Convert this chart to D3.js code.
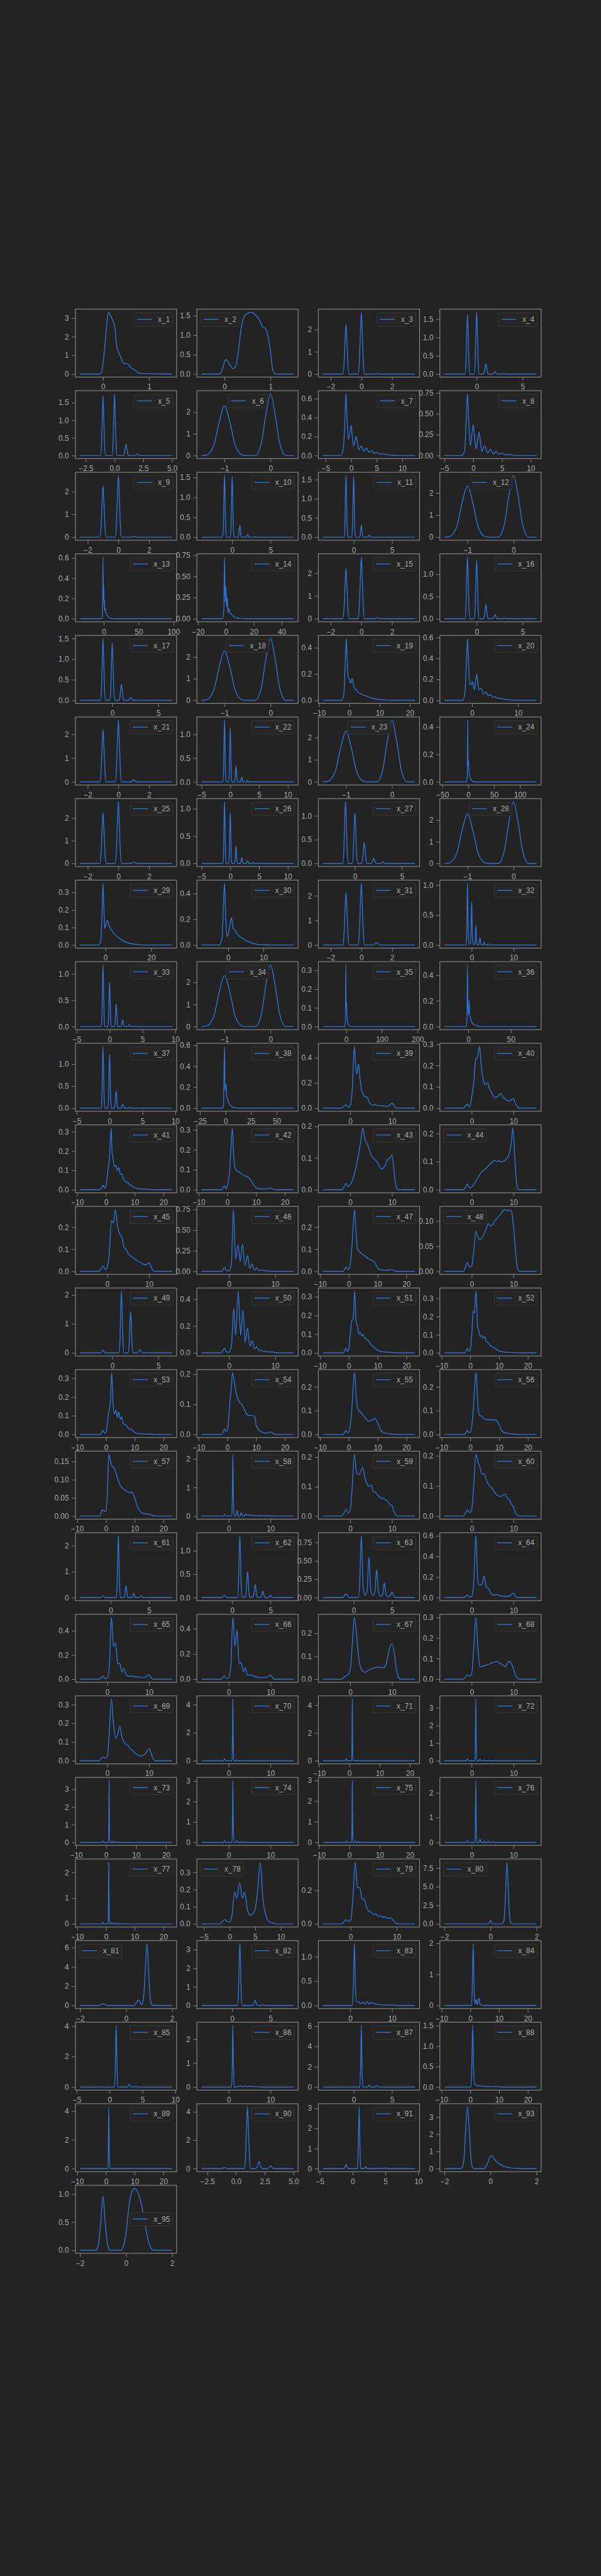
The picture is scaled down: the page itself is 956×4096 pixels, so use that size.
<!DOCTYPE html>
<html><head><meta charset="utf-8">
<script src="https://cdn.jsdelivr.net/npm/d3@7"></script>
<style>
html,body{margin:0;padding:0;background:#232323;}
svg{display:block;}
</style></head><body>
<div id="chart"></div>
<script>
const labels = ["x_1","x_2","x_3","x_4","x_5","x_6","x_7","x_8","x_9","x_10","x_11","x_12","x_13","x_14","x_15","x_16","x_17","x_18","x_19","x_20","x_21","x_22","x_23","x_24","x_25","x_26","x_27","x_28","x_29","x_30","x_31","x_32","x_33","x_34","x_35","x_36","x_37","x_38","x_39","x_40","x_41","x_42","x_43","x_44","x_45","x_46","x_47","x_48","x_49","x_50","x_51","x_52","x_53","x_54","x_55","x_56","x_57","x_58","x_59","x_60","x_61","x_62","x_63","x_64","x_65","x_66","x_67","x_68","x_69","x_70","x_71","x_72","x_73","x_74","x_75","x_76","x_77","x_78","x_79","x_80","x_81","x_82","x_83","x_84","x_85","x_86","x_87","x_88","x_89","x_90","x_91","x_93","x_95"];

const xTicks = [[0,1],[0,1],[-2,0,2],[0,5],[-2.5,0,2.5,5],[-1,0],[-5,0,5,10],[-5,0,5,10],[-2,0,2],[0,5],[0,5],[-1,0],
[0,50,100],[-20,0,20,40],[-2,0,2],[0,5],[0,5],[-1,0],[-10,0,10,20],[0,10],[-2,0,2],[-5,0,5,10],[-1,0],[-50,0,50,100],
[-2,0,2],[-5,0,5,10],[0,5],[-1,0],[0,20],[0,10],[-2,0,2],[0,10],[-5,0,5,10],[-1,0],[0,100,200],[0,50],
[-5,0,5,10],[-25,0,25,50],[0,10],[0,10],[-10,0,10,20],[-10,0,10,20],[0,10],[0,10],[0,10],[0,10],[-10,0,10,20],[0,10],
[0,5],[0,10],[-10,0,10,20],[-10,0,10,20],[-10,0,10,20],[-10,0,10,20],[-10,0,10,20],[-10,0,10,20],[-10,0,10,20],[0,10],[0,10],[0,10],
[0,5],[0,5],[0,5],[0,10],[0,10],[0,10],[0,10],[0,10],[0,10],[0,10],[-10,0,10,20],[0,10],
[-10,0,10,20],[0,10],[-10,0,10,20],[0,10],[-10,0,10,20],[-5,0,5,10],[0,10],[-2,0,2],[-2,0,2],[0,5],[0,10],[-10,0,10,20],
[-5,0,5,10],[0,10],[0,5],[-10,0,10,20],[-10,0,10,20],[-2.5,0,2.5,5],[-5,0,5,10],[-2,0,2],[-2,0,2]];

const yTicks = [[0,1,2,3],[0,0.5,1,1.5],[0,1,2],[0,0.5,1,1.5],[0,0.5,1,1.5],[0,1,2],[0,0.2,0.4,0.6],[0,0.25,0.5,0.75],[0,1,2],[0,0.5,1,1.5],[0,0.5,1,1.5],[0,1,2],
[0,0.2,0.4,0.6],[0,0.25,0.5,0.75],[0,1,2],[0,0.5,1],[0,0.5,1,1.5],[0,1,2],[0,0.2,0.4],[0,0.2,0.4,0.6],[0,1,2],[0,0.5,1],[0,1,2],[0,0.2,0.4],
[0,1,2],[0,0.5,1],[0,0.5,1],[0,1,2],[0,0.1,0.2,0.3],[0,0.2,0.4],[0,1,2],[0,0.5,1],[0,0.5,1],[0,1,2],[0,0.1,0.2,0.3],[0,0.2,0.4],
[0,0.5,1],[0,0.2,0.4,0.6],[0,0.2,0.4],[0,0.1,0.2,0.3],[0,0.1,0.2,0.3],[0,0.1,0.2,0.3],[0,0.1,0.2],[0,0.1,0.2],[0,0.1,0.2],[0,0.25,0.5,0.75],[0,0.1,0.2],[0,0.05,0.1],
[0,1,2],[0,0.2,0.4],[0,0.1,0.2,0.3],[0,0.1,0.2,0.3],[0,0.1,0.2,0.3],[0,0.1,0.2],[0,0.1,0.2],[0,0.1,0.2],[0,0.05,0.1,0.15],[0,1,2],[0,0.1,0.2],[0,0.1,0.2],
[0,1,2],[0,0.5,1],[0,0.25,0.5,0.75],[0,0.2,0.4,0.6],[0,0.2,0.4],[0,0.2,0.4],[0,0.1,0.2],[0,0.1,0.2,0.3],[0,0.1,0.2,0.3],[0,2,4],[0,2,4],[0,1,2,3],
[0,1,2,3],[0,1,2,3],[0,1,2,3],[0,1,2],[0,1,2],[0,0.1,0.2,0.3],[0,0.2],[0,2.5,5,7.5],[0,2,4,6],[0,1,2,3],[0,0.5,1],[0,1,2],
[0,2,4],[0,1,2],[0,2,4,6],[0,0.5,1,1.5],[0,2,4],[0,2,4],[0,1,2,3],[0,1,2,3],[0,0.5,1]];

const curves = [
/*x_1*/[[-0.5,0],[-0.07,0],[-0.03,0.1],[0,0.55],[0.04,1.5],[0.08,2.6],[0.12,3.32],[0.16,3.15],[0.21,2.9],[0.26,2.45],[0.3,1.45],[0.36,1.05],[0.42,0.68],[0.46,0.57],[0.53,0.55],[0.61,0.33],[0.7,0.2],[0.78,0.05],[0.9,0.02],[1.05,0.01],[1.5,0]],
/*x_2*/[[-0.5,0],[-0.11,0],[-0.05,0.1],[0.02,0.37],[0.065,0.34],[0.13,0.21],[0.18,0.14],[0.24,0.18],[0.3,0.57],[0.37,1.23],[0.43,1.49],[0.52,1.57],[0.59,1.59],[0.67,1.52],[0.76,1.39],[0.83,1.21],[0.89,1.17],[0.93,1.05],[1,0.57],[1.05,0.1],[1.11,0],[1.5,0]],
/*x_3*/[[-2.5,0],[-1.21,0],[-1.13,0.45],[-1.06,1.5],[-1,2.24],[-0.94,1.5],[-0.87,0.45],[-0.79,0],[-0.21,0],[-0.13,0.56],[-0.06,1.86],[0,2.78],[0.06,1.86],[0.13,0.56],[0.21,0],[0.8,0],[1,0.02],[1.2,0],[3.5,0]],
/*x_4*/[[-3.5,0],[-1.27,0],[-1.16,0.33],[-1.08,1.09],[-1,1.63],[-0.92,1.09],[-0.84,0.33],[-0.73,0],[-0.27,0],[-0.16,0.34],[-0.08,1.13],[0,1.69],[0.08,1.13],[0.16,0.34],[0.27,0],[0.73,0],[0.84,0.06],[0.92,0.19],[1,0.28],[1.08,0.19],[1.16,0.06],[1.27,0],[1.75,0],[1.85,0.02],[2,0.06],[2.15,0.02],[2.25,0],[2.8,0],[3,0.01],[3.2,0],[6.5,0]],
/*x_5*/[[-3,0],[-1.21,0],[-1.13,0.34],[-1.06,1.13],[-1,1.69],[-0.94,1.13],[-0.87,0.34],[-0.79,0],[-0.21,0],[-0.13,0.35],[-0.06,1.17],[0,1.75],[0.06,1.17],[0.13,0.35],[0.21,0],[0.76,0],[0.86,0.07],[0.93,0.22],[1,0.32],[1.07,0.22],[1.14,0.07],[1.24,0],[1.8,0],[2,0.045],[2.2,0],[5,0]],
/*x_6*/[[-1.5,0],[-1.4,0.02],[-1.234,0.46],[-1.117,1.53],[-1,2.29],[-0.883,1.53],[-0.766,0.46],[-0.61,0.02],[-0.5,0],[-0.33,0],[-0.2,0.57],[-0.1,1.9],[0,2.84],[0.1,1.9],[0.2,0.57],[0.33,0],[0.5,0]],
/*x_7*/[[-5.5,0],[-2,0],[-1.5,0.08],[-1.2,0.4],[-1,0.65],[-0.8,0.4],[-0.55,0.17],[-0.2,0.25],[0,0.32],[0.2,0.22],[0.5,0.1],[0.8,0.16],[1,0.2],[1.2,0.15],[1.5,0.06],[2,0.1],[2.5,0.045],[3,0.08],[3.5,0.035],[4,0.055],[4.5,0.025],[5,0.035],[5.5,0.015],[6,0.02],[7,0.01],[8,0.005],[9,0],[12.5,0]],
/*x_8*/[[-5,0],[-2,0],[-1.5,0.06],[-1.2,0.45],[-1,0.74],[-0.8,0.45],[-0.5,0.12],[-0.2,0.27],[0,0.37],[0.2,0.25],[0.5,0.08],[0.8,0.2],[1,0.28],[1.2,0.2],[1.5,0.05],[2,0.12],[2.5,0.03],[3,0.075],[3.5,0.02],[4,0.05],[4.5,0.015],[5,0.03],[5.5,0.01],[6,0.012],[7,0.004],[8,0],[11,0]],
/*x_9*/[[-2.5,0],[-1.21,0],[-1.13,0.45],[-1.06,1.51],[-1,2.26],[-0.94,1.51],[-0.87,0.45],[-0.79,0],[-0.21,0],[-0.13,0.54],[-0.06,1.82],[0,2.71],[0.06,1.82],[0.13,0.54],[0.21,0],[0.8,0],[1,0.03],[1.2,0],[3.5,0]],
/*x_10*/[[-4,0],[-1.24,0],[-1.14,0.31],[-1.07,1.04],[-1,1.55],[-0.93,1.04],[-0.86,0.31],[-0.76,0],[-0.24,0],[-0.14,0.31],[-0.07,1.03],[0,1.53],[0.07,1.03],[0.14,0.31],[0.24,0],[0.76,0],[0.86,0.06],[0.93,0.2],[1,0.3],[1.07,0.2],[1.14,0.06],[1.24,0],[1.8,0],[2,0.065],[2.2,0],[2.85,0],[3,0.01],[3.15,0],[8,0]],
/*x_11*/[[-4,0],[-1.24,0],[-1.14,0.32],[-1.07,1.08],[-1,1.61],[-0.93,1.08],[-0.86,0.32],[-0.76,0],[-0.24,0],[-0.14,0.32],[-0.07,1.06],[0,1.58],[0.07,1.06],[0.14,0.32],[0.24,0],[0.76,0],[0.86,0.06],[0.93,0.21],[1,0.32],[1.07,0.21],[1.14,0.06],[1.24,0],[1.8,0],[2,0.05],[2.2,0],[8,0]],
/*x_12*/[[-1.5,0],[-1.4,0.02],[-1.234,0.46],[-1.117,1.55],[-1,2.31],[-0.883,1.55],[-0.766,0.46],[-0.61,0.02],[-0.5,0],[-0.33,0],[-0.2,0.56],[-0.1,1.88],[0,2.8],[0.1,1.88],[0.2,0.56],[0.33,0],[0.5,0]],
/*x_13*/[[-34,0],[-2.5,0],[-1.6,0.08],[-1,0.61],[-0.5,0.2],[0,0.32],[0.4,0.13],[1,0.18],[1.5,0.08],[2,0.11],[3,0.06],[4,0.05],[5,0.03],[7,0.015],[10,0.004],[15,0],[98,0]],
/*x_14*/[[-17.5,0],[-2.2,0],[-1.5,0.1],[-1,0.73],[-0.5,0.2],[0,0.38],[0.5,0.14],[1,0.25],[1.5,0.07],[2,0.12],[3,0.07],[4,0.05],[6,0.02],[8,0.008],[10,0.003],[14,0],[48.5,0]],
/*x_15*/[[-2.5,0],[-1.21,0],[-1.13,0.44],[-1.06,1.48],[-1,2.21],[-0.94,1.48],[-0.87,0.44],[-0.79,0],[-0.21,0],[-0.13,0.54],[-0.06,1.82],[0,2.71],[0.06,1.82],[0.13,0.54],[0.21,0],[0.8,0],[1,0.04],[1.2,0],[3.5,0]],
/*x_16*/[[-3.5,0],[-1.27,0],[-1.16,0.28],[-1.08,0.93],[-1,1.39],[-0.92,0.93],[-0.84,0.28],[-0.73,0],[-0.27,0],[-0.16,0.26],[-0.08,0.88],[0,1.31],[0.08,0.88],[0.16,0.26],[0.27,0],[0.73,0],[0.84,0.06],[0.92,0.21],[1,0.32],[1.08,0.21],[1.16,0.06],[1.27,0],[1.73,0],[1.84,0.02],[1.92,0.06],[2,0.094],[2.08,0.06],[2.16,0.02],[2.27,0],[2.8,0],[3,0.022],[3.2,0],[6.5,0]],
/*x_17*/[[-3.5,0],[-1.27,0],[-1.16,0.3],[-1.08,1],[-1,1.5],[-0.92,1],[-0.84,0.3],[-0.73,0],[-0.27,0],[-0.16,0.28],[-0.08,0.94],[0,1.4],[0.08,0.94],[0.16,0.28],[0.27,0],[0.73,0],[0.84,0.08],[0.92,0.26],[1,0.385],[1.08,0.26],[1.16,0.08],[1.27,0],[1.75,0],[1.85,0.02],[2,0.067],[2.15,0.02],[2.25,0],[2.8,0],[3,0.01],[3.2,0],[6.5,0]],
/*x_18*/[[-1.5,0],[-1.4,0.02],[-1.234,0.46],[-1.117,1.53],[-1,2.29],[-0.883,1.53],[-0.766,0.46],[-0.61,0.02],[-0.5,0],[-0.33,0],[-0.2,0.57],[-0.1,1.92],[0,2.86],[0.1,1.92],[0.2,0.57],[0.33,0],[0.5,0]],
/*x_19*/[[-8.7,0],[-2.5,0],[-1.8,0.05],[-1.4,0.25],[-1,0.47],[-0.7,0.3],[-0.4,0.18],[0,0.16],[0.4,0.13],[1,0.165],[1.4,0.11],[2,0.085],[2.5,0.075],[3,0.06],[3.5,0.055],[4,0.045],[5,0.038],[6,0.028],[7,0.02],[8,0.013],[10,0.006],[12,0.002],[14,0],[21.7,0]],
/*x_20*/[[-6,0],[-2,0],[-1.5,0.1],[-1.2,0.4],[-1,0.59],[-0.8,0.4],[-0.5,0.15],[-0.2,0.15],[0,0.18],[0.3,0.14],[0.5,0.1],[0.8,0.19],[1,0.25],[1.2,0.19],[1.5,0.1],[2,0.115],[2.5,0.06],[3,0.08],[3.5,0.045],[4,0.055],[4.5,0.03],[5,0.035],[5.5,0.02],[6,0.02],[7,0.01],[8,0.005],[9,0.002],[10,0],[14,0]],
/*x_21*/[[-2.5,0],[-1.21,0],[-1.13,0.44],[-1.06,1.47],[-1,2.2],[-0.94,1.47],[-0.87,0.44],[-0.79,0],[-0.21,0],[-0.13,0.52],[-0.06,1.74],[0,2.6],[0.06,1.74],[0.13,0.52],[0.21,0],[0.8,0],[0.9,0.04],[1,0.08],[1.1,0.04],[1.2,0],[3.5,0]],
/*x_22*/[[-5,0],[-1.27,0],[-1.16,0.26],[-1.08,0.87],[-1,1.3],[-0.92,0.87],[-0.84,0.26],[-0.73,0],[-0.27,0],[-0.16,0.23],[-0.08,0.76],[0,1.13],[0.08,0.76],[0.16,0.23],[0.27,0],[0.73,0],[0.84,0.07],[0.92,0.23],[1,0.34],[1.08,0.23],[1.16,0.07],[1.27,0],[1.73,0],[1.84,0.02],[1.92,0.07],[2,0.1],[2.08,0.07],[2.16,0.02],[2.27,0],[2.8,0],[3,0.03],[3.2,0],[3.8,0],[4,0.01],[4.2,0],[11,0]],
/*x_23*/[[-1.5,0],[-1.4,0.02],[-1.234,0.46],[-1.117,1.54],[-1,2.3],[-0.883,1.54],[-0.766,0.46],[-0.61,0.02],[-0.5,0],[-0.33,0],[-0.2,0.56],[-0.1,1.88],[0,2.8],[0.1,1.88],[0.2,0.56],[0.33,0],[0.5,0]],
/*x_24*/[[-46,0],[-3,0],[-1.8,0.05],[-1,0.45],[-0.4,0.12],[0.2,0.16],[1,0.1],[2,0.06],[3,0.04],[5,0.02],[8,0.005],[12,0],[132,0]],
/*x_25*/[[-2.5,0],[-1.21,0],[-1.13,0.45],[-1.06,1.49],[-1,2.23],[-0.94,1.49],[-0.87,0.45],[-0.79,0],[-0.21,0],[-0.13,0.54],[-0.06,1.82],[0,2.72],[0.06,1.82],[0.13,0.54],[0.21,0],[0.8,0],[0.9,0.025],[1,0.05],[1.1,0.025],[1.2,0],[3.5,0]],
/*x_26*/[[-5,0],[-1.27,0],[-1.16,0.23],[-1.08,0.76],[-1,1.13],[-0.92,0.76],[-0.84,0.23],[-0.73,0],[-0.27,0],[-0.16,0.19],[-0.08,0.62],[0,0.93],[0.08,0.62],[0.16,0.19],[0.27,0],[0.73,0],[0.84,0.06],[0.92,0.21],[1,0.32],[1.08,0.21],[1.16,0.06],[1.27,0],[1.73,0],[1.84,0.02],[1.92,0.07],[2,0.11],[2.08,0.07],[2.16,0.02],[2.27,0],[2.75,0],[2.88,0.025],[3,0.05],[3.12,0.025],[3.25,0],[3.8,0],[4,0.02],[4.2,0],[11,0]],
/*x_27*/[[-3.4,0],[-1.3,0],[-1.18,0.26],[-1.09,0.87],[-1,1.3],[-0.91,0.87],[-0.82,0.26],[-0.7,0],[-0.3,0],[-0.18,0.21],[-0.09,0.71],[0,1.06],[0.09,0.71],[0.18,0.21],[0.3,0],[0.7,0],[0.82,0.09],[0.91,0.29],[1,0.44],[1.09,0.29],[1.18,0.09],[1.3,0],[1.7,0],[1.82,0.02],[1.91,0.07],[2,0.11],[2.09,0.07],[2.18,0.02],[2.3,0],[2.8,0],[3,0.03],[3.2,0],[6.4,0]],
/*x_28*/[[-1.5,0],[-1.4,0.02],[-1.234,0.46],[-1.117,1.53],[-1,2.28],[-0.883,1.53],[-0.766,0.46],[-0.61,0.02],[-0.5,0],[-0.33,0],[-0.2,0.57],[-0.1,1.91],[0,2.85],[0.1,1.91],[0.2,0.57],[0.33,0],[0.5,0]],
/*x_29*/[[-11,0],[-3,0],[-2,0.02],[-1.5,0.15],[-1,0.353],[-0.6,0.2],[-0.2,0.095],[0.3,0.12],[1,0.14],[1.6,0.11],[2,0.1],[3,0.08],[4,0.063],[5,0.05],[6,0.04],[8,0.022],[10,0.012],[12,0.006],[15,0.002],[19,0],[29,0]],
/*x_30*/[[-7.5,0],[-2.5,0],[-1.7,0.05],[-1.3,0.3],[-1,0.48],[-0.7,0.25],[-0.3,0.066],[0.2,0.1],[0.6,0.17],[1,0.213],[1.4,0.13],[2,0.115],[2.5,0.09],[3,0.075],[3.5,0.06],[4,0.055],[5,0.035],[6,0.025],[7,0.013],[8,0.007],[10,0.002],[12,0],[18.5,0]],
/*x_31*/[[-2.5,0],[-1.21,0],[-1.13,0.43],[-1.06,1.43],[-1,2.14],[-0.94,1.43],[-0.87,0.43],[-0.79,0],[-0.21,0],[-0.13,0.5],[-0.06,1.68],[0,2.51],[0.06,1.68],[0.13,0.5],[0.21,0],[0.8,0],[0.9,0.05],[1,0.1],[1.1,0.05],[1.2,0],[3.5,0]],
/*x_32*/[[-6.5,0],[-1.3,0],[-1.18,0.21],[-1.09,0.69],[-1,1.03],[-0.91,0.69],[-0.82,0.21],[-0.6,0.02],[-0.3,0.02],[-0.18,0.15],[-0.09,0.49],[0,0.73],[0.09,0.49],[0.18,0.15],[0.4,0.01],[0.7,0.01],[0.82,0.07],[0.91,0.22],[1,0.33],[1.09,0.22],[1.18,0.07],[1.4,0.005],[1.7,0.005],[1.85,0.05],[2,0.12],[2.15,0.05],[2.3,0.005],[2.8,0.005],[3,0.05],[3.2,0.005],[3.8,0],[4,0.02],[4.2,0],[15.5,0]],
/*x_33*/[[-4.5,0],[-1.27,0],[-1.16,0.23],[-1.08,0.78],[-1,1.17],[-0.92,0.78],[-0.84,0.23],[-0.73,0],[-0.27,0],[-0.16,0.17],[-0.08,0.56],[0,0.835],[0.08,0.56],[0.16,0.17],[0.27,0],[0.73,0],[0.84,0.09],[0.92,0.29],[1,0.43],[1.08,0.29],[1.16,0.09],[1.27,0],[1.73,0],[1.84,0.03],[1.92,0.09],[2,0.13],[2.08,0.09],[2.16,0.03],[2.27,0],[2.8,0],[3,0.04],[3.2,0],[3.8,0],[4,0.01],[4.2,0],[9.5,0]],
/*x_34*/[[-1.5,0],[-1.4,0.02],[-1.234,0.46],[-1.117,1.55],[-1,2.31],[-0.883,1.55],[-0.766,0.46],[-0.61,0.02],[-0.5,0],[-0.33,0],[-0.2,0.56],[-0.1,1.88],[0,2.8],[0.1,1.88],[0.2,0.56],[0.33,0],[0.5,0]],
/*x_35*/[[-65,0],[-4,0],[-2,0.03],[-1,0.33],[0,0.1],[1,0.13],[2,0.07],[4,0.03],[7,0.01],[12,0],[193,0]],
/*x_36*/[[-28,0],[-2.5,0],[-1.6,0.06],[-1,0.48],[-0.3,0.09],[0.4,0.12],[1,0.2],[1.6,0.08],[2.2,0.08],[3,0.05],[5,0.025],[8,0.01],[12,0.003],[16,0],[80,0]],
/*x_37*/[[-4.5,0],[-1.27,0],[-1.16,0.28],[-1.08,0.94],[-1,1.4],[-0.92,0.94],[-0.84,0.28],[-0.73,0],[-0.27,0],[-0.16,0.24],[-0.08,0.82],[0,1.22],[0.08,0.82],[0.16,0.24],[0.27,0],[0.73,0],[0.84,0.08],[0.92,0.26],[1,0.39],[1.08,0.26],[1.16,0.08],[1.27,0],[1.75,0],[1.85,0.03],[2,0.09],[2.15,0.03],[2.25,0],[2.8,0],[3,0.02],[3.2,0],[9.5,0]],
/*x_38*/[[-23.5,0],[-3,0],[-2,0.02],[-1,0.59],[-0.4,0.17],[0.5,0.23],[1,0.12],[2,0.09],[3,0.05],[4,0.04],[6,0.015],[9,0.004],[14,0],[66.5,0]],
/*x_39*/[[-6.5,0],[-2,0],[-1.5,0.015],[-1,0.027],[-0.5,0.006],[0,0.02],[0.5,0.15],[0.8,0.38],[1,0.49],[1.3,0.35],[1.6,0.27],[2,0.35],[2.4,0.22],[2.8,0.13],[3,0.12],[3.3,0.1],[3.7,0.09],[4,0.09],[4.5,0.05],[5,0.03],[5.5,0.022],[6,0.03],[6.5,0.02],[7,0.022],[8,0.016],[9,0.015],[9.6,0.03],[10,0.04],[10.4,0.025],[10.8,0.005],[11.5,0],[15.5,0]],
/*x_40*/[[-6.5,0],[-2,0],[-1.5,0.01],[-1,0.02],[-0.5,0.005],[0,0.05],[0.5,0.12],[1,0.23],[1.4,0.24],[1.9,0.29],[2.3,0.2],[2.8,0.13],[3.3,0.11],[3.8,0.12],[4.3,0.09],[5,0.065],[5.5,0.05],[6,0.052],[6.5,0.06],[7,0.07],[7.5,0.05],[8,0.045],[8.5,0.035],[9,0.034],[9.5,0.04],[10,0.045],[10.5,0.02],[11,0.005],[11.5,0],[15.5,0]],
/*x_41*/[[-9,0],[-2,0],[-1.5,0.01],[-1,0.023],[-0.5,0.008],[0,0.02],[0.7,0.1],[1.2,0.16],[1.6,0.27],[1.85,0.32],[2.1,0.2],[2.5,0.16],[3,0.12],[3.5,0.125],[4,0.1],[4.5,0.115],[5,0.08],[5.5,0.082],[6,0.06],[7,0.04],[7.5,0.038],[8,0.03],[9,0.02],[10,0.01],[12,0.004],[15,0.002],[17,0],[23,0]],
/*x_42*/[[-9,0],[-2,0],[-1.5,0.01],[-1,0.02],[-0.5,0.005],[0,0.02],[0.8,0.1],[1.3,0.22],[1.74,0.31],[2.1,0.2],[2.5,0.12],[3,0.1],[4,0.09],[5,0.08],[6,0.07],[7,0.065],[8,0.05],[9,0.028],[10,0.01],[11,0.005],[13,0.004],[14,0.006],[15,0.008],[16,0.002],[17,0],[23,0]],
/*x_43*/[[-6.5,0],[-2,0],[-1.5,0.008],[-1,0.02],[-0.5,0.01],[0,0.015],[1,0.05],[2,0.11],[2.5,0.15],[3,0.195],[3.5,0.16],[4,0.148],[4.5,0.13],[5,0.11],[5.5,0.1],[6,0.095],[7,0.075],[7.5,0.065],[8,0.07],[8.5,0.08],[9,0.097],[9.5,0.1],[10,0.11],[10.5,0.06],[11,0.01],[11.5,0],[15.5,0]],
/*x_44*/[[-6.5,0],[-2,0],[-1.5,0.008],[-1,0.02],[-0.4,0.005],[0,0.01],[1,0.03],[2,0.055],[2.5,0.065],[3,0.07],[4,0.085],[5,0.1],[5.5,0.105],[6,0.1],[6.5,0.104],[7,0.099],[8,0.105],[9,0.13],[9.5,0.17],[9.85,0.22],[10.3,0.12],[10.7,0.03],[11.2,0],[15.5,0]],
/*x_45*/[[-6.5,0],[-2,0],[-1.5,0.01],[-1,0.024],[-0.4,0.008],[0,0.02],[0.5,0.08],[1,0.23],[1.5,0.22],[1.93,0.28],[2.5,0.2],[3,0.17],[3.5,0.155],[4,0.11],[4.5,0.1],[5,0.08],[6,0.065],[7,0.05],[8,0.04],[9,0.03],[9.5,0.032],[10,0.038],[10.5,0.02],[11,0.003],[11.5,0],[15.5,0]],
/*x_46*/[[-6,0],[-1.6,0],[-1.3,0.02],[-1,0.045],[-0.7,0.02],[-0.4,0.005],[0,0.005],[0.5,0.1],[0.94,0.75],[1.4,0.15],[1.95,0.32],[2.4,0.12],[2.9,0.33],[3.45,0.07],[4,0.19],[4.5,0.035],[5,0.09],[5.5,0.015],[6,0.04],[6.5,0.01],[7,0.015],[8,0.005],[9,0.002],[10,0],[14,0]],
/*x_47*/[[-9,0],[-2,0],[-1.5,0.008],[-1,0.02],[-0.5,0.008],[0,0.01],[1,0.1],[1.5,0.2],[1.98,0.28],[2.5,0.18],[3,0.1],[4,0.085],[5,0.075],[6,0.065],[7,0.055],[8,0.05],[9,0.04],[10,0.015],[11,0.007],[13,0.005],[15,0.008],[16,0.002],[17,0],[23,0]],
/*x_48*/[[-6.5,0],[-2,0],[-1.5,0.008],[-1,0.018],[-0.5,0.008],[0,0.01],[0.5,0.04],[1,0.08],[1.5,0.068],[2,0.063],[3,0.075],[3.5,0.085],[4,0.095],[4.5,0.09],[5,0.093],[5.5,0.1],[6,0.105],[7,0.115],[7.5,0.12],[8,0.123],[8.5,0.12],[9,0.122],[9.5,0.12],[10,0.09],[10.5,0.04],[11,0.005],[11.5,0],[15.5,0]],
/*x_49*/[[-3.5,0],[-1.27,0],[-1.1,0.05],[-1,0.1],[-0.9,0.05],[-0.73,0],[0.73,0],[0.84,0.43],[0.92,1.43],[1,2.13],[1.08,1.43],[1.16,0.43],[1.27,0],[1.73,0],[1.84,0.29],[1.92,0.96],[2,1.43],[2.08,0.96],[2.16,0.29],[2.27,0],[2.73,0],[2.9,0.06],[3,0.12],[3.1,0.06],[3.27,0],[3.8,0],[4,0.02],[4.2,0],[6.5,0]],
/*x_50*/[[-6,0],[-1.7,0],[-1.3,0.02],[-1,0.035],[-0.6,0.008],[0,0.005],[0.5,0.05],[1,0.33],[1.4,0.13],[2,0.46],[2.5,0.13],[3,0.32],[3.5,0.08],[4,0.185],[4.5,0.05],[5,0.09],[5.5,0.03],[6,0.045],[6.5,0.015],[7,0.02],[7.5,0.01],[8,0.012],[8.5,0.006],[9,0.008],[10,0.003],[11,0],[14,0]],
/*x_51*/[[-9,0],[-2,0],[-1.5,0.01],[-1,0.025],[-0.5,0.008],[0,0.02],[0.5,0.1],[1,0.17],[1.5,0.18],[2,0.33],[2.5,0.17],[3,0.14],[3.5,0.1],[4,0.11],[4.5,0.09],[5,0.1],[5.5,0.08],[6,0.075],[7,0.06],[8,0.04],[9,0.025],[10,0.015],[11,0.007],[13,0.004],[15,0.003],[17,0],[23,0]],
/*x_52*/[[-9,0],[-2,0],[-1.5,0.01],[-1,0.025],[-0.5,0.008],[0,0.02],[0.5,0.1],[1,0.23],[1.4,0.22],[2,0.34],[2.5,0.15],[3,0.12],[3.5,0.09],[4,0.095],[4.5,0.08],[5,0.09],[5.5,0.065],[6,0.06],[7,0.04],[8,0.03],[9,0.02],[10,0.01],[12,0.004],[15,0.002],[17,0],[23,0]],
/*x_53*/[[-9,0],[-2,0],[-1.5,0.01],[-1,0.022],[-0.5,0.008],[0,0.01],[0.5,0.06],[1,0.12],[1.5,0.16],[2,0.33],[2.5,0.16],[3,0.11],[3.5,0.13],[4,0.09],[4.5,0.12],[5,0.08],[5.5,0.095],[6,0.06],[7,0.05],[8,0.03],[9,0.025],[10,0.012],[11,0.005],[13,0.003],[15,0.002],[17,0],[23,0]],
/*x_54*/[[-9,0],[-2,0],[-1.5,0.008],[-1,0.018],[-0.4,0.01],[0,0.015],[1,0.12],[1.5,0.17],[1.75,0.205],[2.5,0.17],[3,0.14],[4,0.11],[5,0.1],[6,0.08],[7,0.065],[8,0.063],[9,0.062],[9.5,0.06],[10,0.03],[11,0.015],[12,0.008],[13,0.005],[14,0.005],[15,0.008],[16,0.003],[17,0],[23,0]],
/*x_55*/[[-9,0],[-2,0],[-1.5,0.008],[-1,0.017],[-0.5,0.008],[0,0.01],[1,0.1],[1.5,0.2],[2,0.26],[2.5,0.17],[3,0.11],[4,0.095],[5,0.08],[6,0.065],[7,0.055],[8,0.06],[9,0.068],[10,0.05],[11,0.02],[12,0.008],[14,0.003],[15,0.002],[17,0],[23,0]],
/*x_56*/[[-9,0],[-2,0],[-1.5,0.008],[-1,0.017],[-0.5,0.008],[0,0.01],[1,0.1],[1.5,0.2],[2,0.26],[2.5,0.15],[3,0.085],[4,0.075],[5,0.065],[6,0.062],[7,0.062],[8,0.062],[9,0.06],[10,0.04],[11,0.015],[12,0.007],[14,0.003],[15,0.002],[17,0],[23,0]],
/*x_57*/[[-9,0],[-2,0],[-1.6,0.01],[-1.2,0.017],[-0.5,0.013],[0,0.014],[0.5,0.06],[1,0.17],[1.5,0.155],[2,0.14],[3,0.13],[4,0.105],[5,0.085],[6,0.075],[7,0.07],[8,0.065],[9,0.066],[10,0.05],[11,0.025],[12,0.012],[13,0.007],[14,0.006],[15,0.005],[16,0.002],[17,0],[23,0]],
/*x_58*/[[-6.5,0],[-1.3,0],[-1,0.07],[-0.7,0],[0.75,0],[0.88,0.8],[1,2.17],[1.12,0.8],[1.25,0.05],[1.7,0],[2,0.2],[2.3,0],[2.7,0],[3,0.12],[3.3,0.01],[3.7,0],[4,0.07],[4.5,0.03],[5,0.03],[6,0.02],[7,0.015],[8,0.01],[10,0.005],[11,0],[15.5,0]],
/*x_59*/[[-6.5,0],[-2,0],[-1.5,0.01],[-1,0.022],[-0.5,0.01],[0,0.02],[0.5,0.1],[1,0.21],[1.5,0.15],[2,0.14],[2.5,0.15],[3,0.165],[3.5,0.13],[4,0.11],[4.5,0.1],[5,0.105],[5.5,0.085],[6,0.08],[7,0.065],[7.5,0.06],[8,0.06],[8.5,0.055],[9,0.05],[9.5,0.04],[10,0.035],[10.5,0.015],[11,0.003],[11.5,0],[15.5,0]],
/*x_60*/[[-6.5,0],[-2,0],[-1.5,0.01],[-1,0.02],[-0.5,0.012],[0,0.02],[0.5,0.1],[1,0.205],[1.5,0.18],[2,0.16],[2.5,0.14],[3,0.14],[3.5,0.12],[4,0.105],[5,0.09],[6,0.07],[7,0.065],[8,0.073],[8.5,0.06],[9,0.055],[9.5,0.04],[10,0.03],[10.5,0.01],[11,0.002],[11.5,0],[15.5,0]],
/*x_61*/[[-4,0],[-1.3,0],[-1,0.07],[-0.7,0],[0.73,0],[0.84,0.48],[0.92,1.6],[1,2.38],[1.08,1.6],[1.16,0.48],[1.27,0],[1.73,0],[1.84,0.09],[1.92,0.31],[2,0.46],[2.08,0.31],[2.16,0.09],[2.27,0],[2.75,0],[2.88,0.08],[3,0.17],[3.12,0.08],[3.25,0],[3.75,0],[4,0.07],[4.25,0],[4.8,0],[5,0.02],[5.2,0],[8,0]],
/*x_62*/[[-4,0],[-1.35,0],[-1,0.05],[-0.65,0],[0.7,0],[0.82,0.26],[0.91,0.88],[1,1.32],[1.09,0.88],[1.18,0.26],[1.3,0.01],[1.7,0.01],[1.82,0.11],[1.91,0.38],[2,0.56],[2.09,0.38],[2.18,0.11],[2.3,0.01],[2.7,0.01],[2.82,0.06],[2.91,0.19],[3,0.28],[3.09,0.19],[3.18,0.06],[3.3,0.005],[3.7,0.005],[3.85,0.05],[4,0.14],[4.15,0.05],[4.3,0],[4.75,0],[5,0.05],[5.25,0],[8,0]],
/*x_63*/[[-4,0],[-1.4,0],[-1,0.05],[-0.6,0],[0.6,0],[0.78,0.17],[0.89,0.56],[1,0.84],[1.11,0.56],[1.22,0.17],[1.5,0.03],[1.78,0.11],[1.89,0.37],[2,0.55],[2.11,0.37],[2.22,0.11],[2.5,0.03],[2.78,0.08],[2.89,0.25],[3,0.38],[3.11,0.25],[3.22,0.08],[3.5,0.02],[3.78,0.04],[3.89,0.13],[4,0.2],[4.11,0.13],[4.22,0.04],[4.5,0.01],[4.8,0.03],[5,0.08],[5.2,0.03],[5.5,0],[8,0]],
/*x_64*/[[-6.5,0],[-1.8,0],[-1.4,0.015],[-1,0.025],[-0.5,0.005],[0,0.01],[0.5,0.15],[1,0.6],[1.5,0.15],[2,0.12],[2.5,0.13],[3,0.21],[3.5,0.1],[4,0.09],[4.5,0.05],[5,0.025],[5.5,0.025],[6,0.03],[7,0.015],[8,0.012],[9,0.015],[10,0.045],[10.5,0.012],[11,0],[15.5,0]],
/*x_65*/[[-6.5,0],[-1.8,0],[-1.4,0.015],[-1,0.025],[-0.5,0.005],[0,0.01],[0.5,0.1],[1,0.51],[1.5,0.27],[2,0.3],[2.5,0.13],[3,0.13],[3.5,0.06],[4,0.09],[4.5,0.04],[5,0.025],[6,0.025],[6.5,0.02],[7,0.022],[8,0.015],[9,0.015],[10,0.037],[10.5,0.01],[11,0],[15.5,0]],
/*x_66*/[[-6.5,0],[-1.8,0],[-1.4,0.015],[-1,0.028],[-0.5,0.005],[0,0.01],[0.5,0.1],[1,0.49],[1.5,0.26],[2,0.39],[2.5,0.12],[3,0.135],[3.5,0.06],[4,0.09],[4.5,0.03],[5,0.035],[6,0.025],[7,0.015],[8,0.012],[9,0.015],[10,0.033],[10.5,0.01],[11,0],[15.5,0]],
/*x_67*/[[-6.5,0],[-2,0],[-1.5,0.008],[-1,0.015],[-0.5,0.02],[0,0.04],[0.5,0.15],[1,0.27],[1.5,0.2],[2,0.1],[2.5,0.05],[3,0.035],[3.5,0.03],[4,0.035],[5,0.045],[6,0.05],[7,0.052],[8,0.05],[8.5,0.06],[9,0.1],[9.5,0.14],[10,0.155],[10.5,0.12],[11,0.05],[11.5,0.01],[12,0],[15.5,0]],
/*x_68*/[[-6.5,0],[-2,0],[-1.5,0.01],[-1,0.02],[-0.5,0.015],[0,0.025],[0.5,0.15],[1,0.3],[1.5,0.15],[2,0.06],[3,0.065],[4,0.072],[5,0.08],[6,0.085],[7,0.075],[8,0.062],[9,0.087],[9.5,0.075],[10,0.05],[10.5,0.02],[11,0.005],[11.5,0],[15.5,0]],
/*x_69*/[[-6.5,0],[-2,0],[-1.5,0.01],[-1,0.02],[-0.5,0.015],[0,0.02],[0.5,0.15],[1,0.33],[1.5,0.2],[2,0.12],[2.5,0.14],[3,0.185],[3.5,0.13],[4,0.1],[5,0.08],[5.5,0.065],[6,0.055],[7,0.035],[8,0.025],[9,0.035],[9.5,0.05],[10,0.065],[10.5,0.04],[11,0.01],[11.5,0],[15.5,0]],
/*x_70*/[[-6.5,0],[-1.3,0],[-1,0.13],[-0.7,0],[0.8,0],[0.9,1.5],[1,4.4],[1.1,1.5],[1.2,0],[1.8,0],[2,0.07],[2.2,0],[2.8,0],[3,0.03],[3.2,0],[15.5,0]],
/*x_71*/[[-8.7,0],[-1.3,0],[-1,0.15],[-0.7,0],[0.8,0],[0.9,1.5],[1,4.45],[1.1,1.5],[1.2,0],[1.8,0],[2,0.05],[2.2,0],[2.8,0],[3,0.05],[3.2,0],[3.8,0],[4,0.03],[4.2,0],[21.7,0]],
/*x_72*/[[-6.5,0],[-1.3,0],[-1,0.1],[-0.7,0],[0.8,0],[0.9,1.2],[1,3.5],[1.1,1.2],[1.2,0],[1.8,0],[2,0.1],[2.2,0],[2.8,0],[3,0.04],[3.2,0],[3.8,0],[4,0.04],[4.2,0],[15.5,0]],
/*x_73*/[[-8.7,0],[-1.3,0],[-1,0.08],[-0.7,0],[0.8,0],[0.9,1.2],[1,3.5],[1.1,1.2],[1.2,0],[1.8,0],[2,0.07],[2.2,0],[2.8,0],[3,0.05],[3.2,0],[3.8,0],[4,0.03],[4.2,0],[4.8,0],[5,0.01],[5.2,0],[22,0]],
/*x_74*/[[-6.5,0],[-1.3,0],[-1,0.08],[-0.7,0],[0.8,0],[0.9,1.05],[1,3.03],[1.1,1.05],[1.2,0],[1.8,0],[2,0.08],[2.2,0],[2.8,0],[3,0.03],[3.2,0],[3.8,0],[4,0.02],[4.2,0],[15.5,0]],
/*x_75*/[[-8.7,0],[-1.3,0],[-1,0.07],[-0.7,0],[0.8,0],[0.9,1.05],[1,3],[1.1,1.05],[1.2,0],[1.8,0],[2,0.07],[2.2,0],[2.8,0],[3,0.05],[3.2,0],[3.8,0],[4,0.04],[4.2,0],[21.7,0]],
/*x_76*/[[-6.5,0],[-1.3,0],[-1,0.07],[-0.7,0],[0.8,0],[0.9,0.9],[1,2.5],[1.1,0.9],[1.2,0],[1.75,0],[2,0.12],[2.25,0],[2.8,0],[3,0.05],[3.2,0],[3.8,0],[4,0.05],[4.2,0],[4.8,0],[5,0.03],[5.2,0],[15.5,0]],
/*x_77*/[[-9,0],[-1.3,0],[-1,0.05],[-0.7,0],[0.8,0],[0.9,0.85],[1,2.4],[1.1,0.85],[1.2,0],[1.8,0],[2,0.06],[2.2,0],[2.8,0],[3,0.04],[3.2,0],[3.8,0],[4,0.04],[4.2,0],[4.8,0],[5,0.02],[5.2,0],[5.8,0],[6,0.01],[6.2,0],[23,0]],
/*x_78*/[[-5.5,0],[-2,0],[-1.5,0.012],[-1,0.025],[-0.5,0.015],[0,0.01],[0.5,0.06],[0.97,0.185],[1.4,0.15],[1.95,0.24],[2.5,0.15],[2.9,0.185],[3.5,0.08],[4,0.05],[4.5,0.06],[5,0.085],[5.5,0.2],[6,0.36],[6.5,0.15],[7,0.06],[7.5,0.02],[8,0.01],[8.5,0.005],[9,0],[12.5,0]],
/*x_79*/[[-6,0],[-2,0],[-1.5,0.012],[-1,0.025],[-0.5,0.015],[0,0.02],[0.5,0.15],[1,0.37],[1.5,0.22],[2,0.215],[2.5,0.15],[3,0.145],[3.5,0.1],[4,0.075],[4.5,0.07],[5,0.055],[5.5,0.06],[6,0.045],[6.5,0.05],[7,0.04],[7.5,0.042],[8,0.033],[8.5,0.035],[9,0.03],[9.5,0.015],[10,0.003],[10.5,0],[14,0]],
/*x_80*/[[-2,0],[-0.08,0],[0,0.45],[0.08,0],[0.5,0],[0.58,0.3],[0.64,2.8],[0.72,8.3],[0.8,2.8],[0.86,0.3],[0.94,0],[2,0]],
/*x_81*/[[-2,0],[-1.2,0],[-1.1,0.08],[-1,0.17],[-0.9,0.08],[-0.8,0],[0.35,0],[0.45,0.3],[0.54,0.58],[0.62,0.3],[0.68,0.08],[0.76,0.8],[0.83,3.2],[0.91,6.4],[0.99,3.2],[1.06,0.6],[1.14,0.05],[1.2,0],[2,0]],
/*x_82*/[[-4,0],[0.7,0],[0.82,0.66],[0.91,2.22],[1,3.32],[1.09,2.22],[1.18,0.66],[1.3,0],[2.7,0],[2.85,0.1],[3,0.28],[3.15,0.1],[3.3,0],[3.8,0],[4,0.05],[4.2,0],[4.8,0],[5,0.02],[5.2,0],[8,0]],
/*x_83*/[[-6.5,0],[0.5,0],[0.75,0.4],[1,1.27],[1.25,0.4],[1.5,0.08],[2,0.08],[2.5,0.03],[3,0.07],[3.5,0.03],[4,0.08],[4.5,0.03],[5,0.06],[6,0.03],[7,0.015],[8,0.01],[9,0.008],[10,0.015],[11,0],[15.5,0]],
/*x_84*/[[-9,0],[0.4,0],[0.7,0.7],[1,1.99],[1.3,0.6],[1.6,0.05],[2,0.2],[2.4,0.03],[3,0.23],[3.5,0.03],[4,0.02],[4.5,0],[23,0]],
/*x_85*/[[-4.5,0],[-1.2,0],[-1,0.01],[-0.8,0],[0.75,0],[0.87,1.3],[1,4.05],[1.13,1.3],[1.25,0],[2.7,0],[3,0.18],[3.3,0],[3.8,0],[4,0.06],[4.2,0],[9.5,0]],
/*x_86*/[[-6.5,0],[0.7,0],[0.85,0.85],[1,2.58],[1.15,0.85],[1.3,0],[2,0.01],[3,0.04],[3.5,0.01],[4,0.04],[4.5,0.01],[5,0.035],[6,0.02],[7,0.01],[8,0],[15.5,0]],
/*x_87*/[[-4,0],[-1.2,0],[-1,0.01],[-0.8,0],[0.8,0],[0.91,2],[1,6.1],[1.09,2],[1.2,0],[1.8,0],[2,0.2],[2.2,0],[2.8,0],[3,0.17],[3.2,0],[8,0]],
/*x_88*/[[-9,0],[0.2,0],[0.5,0.5],[0.8,1.51],[1.1,0.5],[1.5,0.06],[2,0.05],[2.5,0.02],[3,0.035],[4,0.02],[5,0.015],[6,0.012],[8,0.01],[9,0.015],[10,0.005],[11,0],[23,0]],
/*x_89*/[[-9,0],[0.7,0],[0.85,1.4],[1,4.3],[1.15,1.4],[1.3,0],[23,0]],
/*x_90*/[[-3,0],[-1.25,0],[-1,0.07],[-0.75,0],[0.72,0],[0.83,0.9],[0.92,2.9],[1,4.35],[1.08,2.9],[1.17,0.9],[1.28,0],[1.72,0],[1.84,0.12],[1.92,0.34],[2,0.5],[2.08,0.34],[2.16,0.12],[2.28,0],[2.75,0],[2.9,0.12],[3,0.2],[3.1,0.12],[3.25,0],[5,0]],
/*x_91*/[[-4.5,0],[-1.3,0],[-1.15,0.09],[-1,0.21],[-0.85,0.09],[-0.7,0],[0.75,0],[0.86,0.9],[1,3.07],[1.14,0.9],[1.25,0],[1.8,0],[2,0.1],[2.2,0],[3.8,0],[4,0.04],[4.2,0],[4.8,0],[5,0.05],[5.2,0],[9.5,0]],
/*x_93*/[[-2,0],[-1.3,0],[-1.22,0.08],[-1.15,0.6],[-1.08,2.2],[-1,3.6],[-0.92,2.2],[-0.85,0.6],[-0.78,0.08],[-0.7,0],[-0.3,0],[-0.2,0.1],[-0.1,0.4],[0,0.72],[0.05,0.75],[0.15,0.6],[0.25,0.42],[0.4,0.27],[0.55,0.16],[0.7,0.09],[0.9,0.04],[1.2,0.01],[1.5,0],[2,0]],
/*x_95*/[[-2,0],[-1.3,0],[-1.2,0.1],[-1.1,0.5],[-1,0.96],[-0.91,0.5],[-0.8,0.1],[-0.7,0],[-0.2,0],[-0.1,0.1],[0,0.3],[0.05,0.5],[0.15,0.85],[0.25,1.03],[0.37,1.1],[0.5,1.04],[0.6,0.93],[0.7,0.75],[0.82,0.5],[0.9,0.3],[1,0.12],[1.1,0.03],[1.2,0],[2,0]]
];

// legend placement (layout, not data)
const legendUpperLeft = new Set(["x_2","x_44","x_48","x_78","x_80","x_81"]);
const legendUpperCenter = new Set(["x_6","x_12","x_18","x_23","x_28","x_34"]);
const legendCenterRight = new Set(["x_95"]);

const BG = "#232323", FRAME = "#8a8a8a", TEXT = "#aaaaaa", LINE = "#2f72d1";
const FS = 12.5;
const PW = 169.8, PH = 114, LEFT0 = 126.4, TOP0 = 518.4, CP = 203.8, RP = 136.8;
const FONT = "'Liberation Sans', Arial, Helvetica, sans-serif";

const svg = d3.select("#chart").append("svg")
  .attr("width", 956).attr("height", 4096)
  .attr("viewBox", "0 0 1008 4320");
svg.append("rect").attr("width", 1008).attr("height", 4320).attr("fill", BG);

function decimals(arr){
  return d3.max(arr, v => { const s = String(v); const k = s.indexOf("."); return k < 0 ? 0 : s.length - k - 1; }) || 0;
}
function makeFmt(arr){
  const d = decimals(arr);
  return v => (v < 0 ? "\u2212" : "") + Math.abs(v).toFixed(d);
}

labels.forEach((name, i) => {
  const r = Math.floor(i / 4), c = i % 4;
  const left = LEFT0 + c * CP, top = TOP0 + r * RP;
  const pts = curves[i];
  const lo = pts[0][0], hi = pts[pts.length - 1][0];
  const pad = 0.05 * (hi - lo);
  const ymax = d3.max(pts, p => p[1]);
  const x = d3.scaleLinear().domain([lo - pad, hi + pad]).range([0, PW]);
  const y = d3.scaleLinear().domain([-0.05 * ymax, 1.05 * ymax]).range([PH, 0]);
  const g = svg.append("g").attr("transform", `translate(${left},${top})`);
  g.append("rect").attr("width", PW).attr("height", PH).attr("fill", BG);

  const xd = x.domain(), yd = y.domain();
  const xt = xTicks[i].filter(v => v >= xd[0] - 1e-9 && v <= xd[1] + 1e-9);
  const yt = yTicks[i].filter(v => v >= yd[0] - 1e-9 && v <= yd[1] + 1e-9);

  const xa = g.append("g").attr("transform", `translate(0,${PH})`)
    .call(d3.axisBottom(x).tickValues(xt).tickFormat(makeFmt(xTicks[i])).tickSize(6).tickPadding(6));
  const ya = g.append("g")
    .call(d3.axisLeft(y).tickValues(yt).tickFormat(makeFmt(yTicks[i])).tickSize(6).tickPadding(5));
  [xa, ya].forEach(a => {
    a.select(".domain").remove();
    a.selectAll("line").attr("stroke", FRAME).attr("stroke-width", 1);
    a.selectAll("text").attr("fill", TEXT).style("font-family", FONT).style("font-size", FS + "px");
  });

  const line = d3.line().x(p => x(p[0])).y(p => y(p[1])).curve(d3.curveMonotoneX);
  g.append("path").datum(pts).attr("d", line)
    .attr("fill", "none").attr("stroke", LINE).attr("stroke-width", 1.5)
    .attr("stroke-linejoin", "round");

  g.append("rect").attr("x", 0).attr("y", 0).attr("width", PW).attr("height", PH)
    .attr("fill", "none").attr("stroke", FRAME).attr("stroke-width", 1.2);

  // legend
  const lg = g.append("g");
  const box = lg.append("rect").attr("rx", 2.5).attr("ry", 2.5)
    .attr("fill", "#262626").attr("fill-opacity", 0.9).attr("stroke", "#383838").attr("stroke-width", 1);
  const txt = lg.append("text").text(name).attr("fill", TEXT)
    .style("font-family", FONT).style("font-size", FS + "px");
  const tw = txt.node().getComputedTextLength();
  const bw = 3.6 * FS + tw, bh = 1.8 * FS;
  let bx, by;
  if (legendUpperLeft.has(name)) { bx = 0.5 * FS; by = 0.5 * FS; }
  else if (legendUpperCenter.has(name)) { bx = (PW - bw) / 2; by = 0.5 * FS; }
  else if (legendCenterRight.has(name)) { bx = PW - 0.5 * FS - bw; by = (PH - bh) / 2; }
  else { bx = PW - 0.5 * FS - bw; by = 0.5 * FS; }
  box.attr("x", bx).attr("y", by).attr("width", bw).attr("height", bh);
  lg.append("line").attr("x1", bx + 0.4 * FS).attr("x2", bx + 2.4 * FS)
    .attr("y1", by + bh / 2 - 0.5).attr("y2", by + bh / 2 - 0.5)
    .attr("stroke", LINE).attr("stroke-width", 1.5);
  txt.attr("x", bx + 3.2 * FS).attr("y", by + bh / 2 + 0.36 * FS - 0.5);
});
</script>
</body></html>
